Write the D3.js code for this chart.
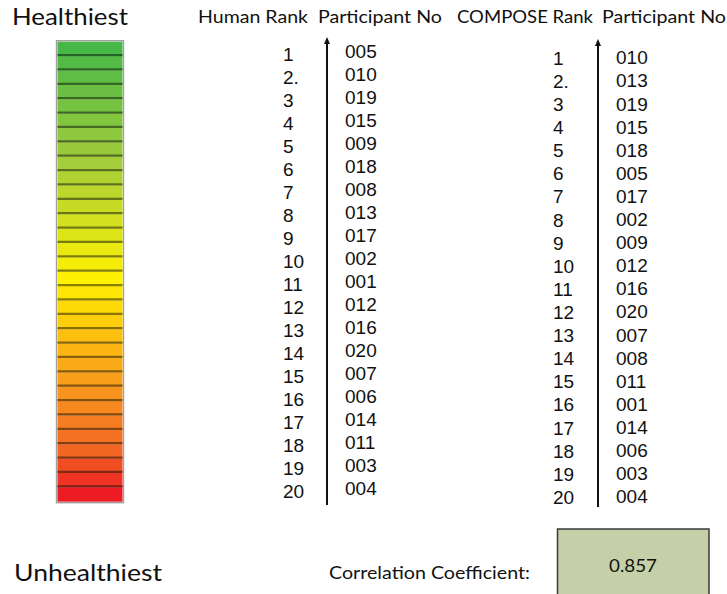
<!DOCTYPE html>
<html>
<head>
<meta charset="utf-8">
<script src="https://cdn.jsdelivr.net/npm/d3@7"></script>
<style>
  html, body { margin: 0; padding: 0; background: #fff; }
  svg { display: block; }
</style>
</head>
<body>
<svg id="chart" width="727" height="594"></svg>
<script>
// ---- data ----
const rankLabels = ["1","2.","3","4","5","6","7","8","9","10","11","12","13","14","15","16","17","18","19","20"];
const humanParticipants = ["005","010","019","015","009","018","008","013","017","002","001","012","016","020","007","006","014","011","003","004"];
const composeParticipants = ["010","013","019","015","018","005","017","002","009","012","016","020","007","008","011","001","014","006","003","004"];
const headers = ["Human Rank","Participant No","COMPOSE Rank","Participant No"];
const scaleEnds = ["Healthiest","Unhealthiest"];
const correlationLabel = "Correlation Coefficient:";
const correlation = [0.857];
const bandCount = 32;

// ---- drawing ----
const svg = d3.select("#chart");
const sans = "Lato, 'Open Sans', sans-serif";
const arial = "'Liberation Sans', Arial, sans-serif";

// colour bar
const bands = d3.range(bandCount);
const barY = d3.scaleBand().domain(bands).range([41.7, 501.7]).padding(0);
const barColor = d3.scaleLinear()
  .domain([0, 8, 16, 20, 24, 28, 31])
  .range(["#47b748", "#a5cd3a", "#fff200", "#fdc010", "#f7941d", "#f26522", "#ed1c24"]);

const bar = svg.append("g");
bar.append("rect")
  .attr("x", 56.5).attr("y", 40.7).attr("width", 67).attr("height", 462)
  .attr("fill", "none").attr("stroke", "#a0a0a0").attr("stroke-width", 1.4);
bar.selectAll("rect.band").data(bands).join("rect")
  .attr("class", "band")
  .attr("x", 57.5).attr("width", 65)
  .attr("y", d => barY(d)).attr("height", barY.bandwidth())
  .attr("fill", d => barColor(d));
bar.selectAll("line.sep").data(bands.slice(0, bandCount - 1)).join("line")
  .attr("class", "sep")
  .attr("x1", 57.5).attr("x2", 122.5)
  .attr("y1", d => barY(d) + barY.bandwidth() - 1)
  .attr("y2", d => barY(d) + barY.bandwidth() - 1)
  .attr("stroke", d => d3.color(barColor(d)).darker(2.2))
  .attr("stroke-opacity", 0.85)
  .attr("stroke-width", 2.2);

// end labels
svg.append("text").attr("x", 12).attr("y", 25)
  .attr("font-family", sans).attr("font-size", 24).attr("fill", "#111")
  .attr("textLength", 116).attr("lengthAdjust", "spacingAndGlyphs")
  .text(scaleEnds[0]);
svg.append("text").attr("x", 14).attr("y", 581)
  .attr("font-family", sans).attr("font-size", 24).attr("fill", "#111")
  .attr("textLength", 148).attr("lengthAdjust", "spacingAndGlyphs")
  .text(scaleEnds[1]);

// headers
const headerPos = [[198, 110], [318, 124], [457, 136], [602, 124]];
svg.selectAll("text.hdr").data(headers).join("text")
  .attr("class", "hdr")
  .attr("x", (d, i) => headerPos[i][0]).attr("y", 23)
  .attr("textLength", (d, i) => headerPos[i][1]).attr("lengthAdjust", "spacingAndGlyphs")
  .attr("font-family", sans).attr("font-size", 18).attr("fill", "#111")
  .text(d => d);

// columns
function drawColumn(participants, cfg) {
  const y = d3.scaleLinear().domain([0, rankLabels.length - 1]).range([cfg.y0, cfg.y1]);
  const g = svg.append("g");
  g.selectAll("text.rank").data(rankLabels).join("text")
    .attr("class", "rank")
    .attr("x", cfg.rankX).attr("y", (d, i) => y(i))
    .attr("dy", "0.36em")
    .attr("font-family", arial).attr("font-size", 19).attr("fill", "#111")
    .text(d => d);
  g.selectAll("text.part").data(participants).join("text")
    .attr("class", "part")
    .attr("x", cfg.partX).attr("y", (d, i) => y(i) - cfg.partOffset)
    .attr("dy", "0.36em")
    .attr("font-family", arial).attr("font-size", 19).attr("fill", "#111")
    .text(d => d);
  // arrow
  g.append("line")
    .attr("x1", cfg.arrowX).attr("x2", cfg.arrowX)
    .attr("y1", cfg.arrowBottom).attr("y2", cfg.arrowTop + 5)
    .attr("stroke", "#111").attr("stroke-width", 2);
  g.append("path")
    .attr("d", `M${cfg.arrowX},${cfg.arrowTop} L${cfg.arrowX - 3},${cfg.arrowTop + 7} L${cfg.arrowX + 3},${cfg.arrowTop + 7} Z`)
    .attr("fill", "#111");
}

drawColumn(humanParticipants, { y0: 54, y1: 491, rankX: 283, partX: 345, partOffset: 2.5, arrowX: 327, arrowTop: 37, arrowBottom: 505 });
drawColumn(composeParticipants, { y0: 58, y1: 497, rankX: 553, partX: 616, partOffset: 0.5, arrowX: 598, arrowTop: 39, arrowBottom: 507 });

// correlation
svg.append("text").attr("x", 329).attr("y", 579)
  .attr("font-family", sans).attr("font-size", 17).attr("fill", "#111")
  .attr("textLength", 201).attr("lengthAdjust", "spacingAndGlyphs")
  .text(correlationLabel);
svg.append("rect")
  .attr("x", 557.5).attr("y", 529).attr("width", 151.5).attr("height", 90)
  .attr("fill", "#c5d0a9").attr("stroke", "#3a3a3a").attr("stroke-width", 1.5);
svg.selectAll("text.corr").data(correlation).join("text")
  .attr("class", "corr")
  .attr("x", 633).attr("y", 572)
  .attr("text-anchor", "middle")
  .attr("font-family", sans).attr("font-size", 18).attr("fill", "#111")
  .attr("textLength", 48).attr("lengthAdjust", "spacingAndGlyphs")
  .text(d => d3.format(".3f")(d));
</script>
</body>
</html>
